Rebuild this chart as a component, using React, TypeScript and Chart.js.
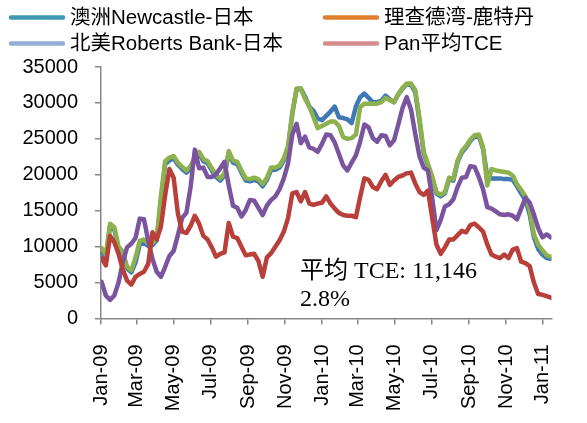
import React, { useEffect, useRef } from "react";
import { Chart, registerables } from "chart.js";

Chart.register(...registerables);

// Weekly observations, first one on 2009-01-02 (day 1 counted from 2009-01-01)
const FIRST_DAY = 1;
const WEEK = 7;

const tickLabels = [
  "Jan-09", "Mar-09", "May-09", "Jul-09", "Sep-09", "Nov-09", "Jan-10",
  "Mar-10", "May-10", "Jul-10", "Sep-10", "Nov-10", "Jan-11",
];
const tickMonths = [0, 2, 4, 6, 8, 10, 12, 14, 16, 18, 20, 22, 24];

const yTicks = [0, 5000, 10000, 15000, 20000, 25000, 30000, 35000];

const seriesNames = [
  "澳洲Newcastle-日本",
  "理查德湾-鹿特丹",
  "北美Roberts Bank-日本",
  "Pan平均TCE",
];

const newcastle = [
  9300, 8500, 12800, 12400, 9700, 9000, 7000, 6400, 7800, 10300,
  10500, 10100, 10200, 10900, 16500, 21500, 22000, 22300, 21400, 20800,
  20300, 20900, 22200, 22900, 21900, 21600, 20600, 19700, 19200, 19900,
  23000, 21700, 21500, 20300, 19200, 19100, 19300, 19100, 18400, 19300,
  20700, 20700, 21000, 22000, 23800, 28500, 31900, 32000, 30900, 29500,
  28900, 27800, 27600, 28200, 28800, 29500, 28000, 27900, 27700, 27200,
  29500, 30800, 31300, 30700, 30100, 30100, 30300, 31000, 30500, 30100,
  31200, 32000, 32600, 32500, 31500, 27500, 23000, 21300, 19600, 17400,
  17000, 17400, 19400, 19200, 21800, 23100, 23800, 24700, 25300, 25400,
  23600, 19800, 19500, 19500, 19500, 19400, 19400, 19300, 18400, 17400,
  16500, 14500, 11300, 9700, 8900, 8400, 8300,
];

const richardsBay = [
  9800, 8900, 13200, 12700, 10000, 9300, 7200, 6700, 8500, 10800,
  11000, 10400, 10500, 11200, 17000, 21900, 22400, 22600, 21700, 21100,
  20600, 21200, 22500, 23200, 22200, 21900, 20900, 20000, 19500, 20200,
  23300, 22000, 21800, 20600, 19500, 19400, 19600, 19400, 18700, 19600,
  21000, 21000, 21300, 22300, 24000, 28700, 32000, 32000, 30600, 29500,
  28000, 26500, 26800, 27100, 27400, 27400, 26800, 25250, 25000, 25100,
  25600, 29400, 29900, 29900, 29900, 29900, 30100, 30700, 30400, 30100,
  31200, 32100, 32700, 32700, 31800, 27900, 23200, 21500, 19800, 17600,
  17200, 17600, 19600, 19400, 22000, 23300, 24000, 24900, 25500, 25600,
  23800, 18500, 20800, 20600, 20500, 20400, 20300, 19900, 18700, 17900,
  17000, 15200, 11700, 10300, 9500, 8800, 8600,
];

const robertsBank = [
  5100, 3200, 2600, 3200, 5000, 7800, 9900, 10400, 11200, 13900,
  13800, 10800, 8300, 6500, 5800, 7200, 8700, 9400, 11600, 14000,
  14700, 18300, 23500, 20900, 21000, 19700, 19700, 20100, 20900, 21800,
  18500, 15700, 15400, 14200, 15100, 16500, 16400, 15400, 14400, 15700,
  16500, 17000, 18000, 19500, 21600, 25600, 27100, 24400, 25300, 23800,
  23600, 23200, 24300, 25600, 25500, 24500, 22900, 21300, 20600, 21700,
  22700, 24600, 27000, 26600, 25100, 24600, 25500, 25400, 24100, 24800,
  27000, 29300, 30800, 29100, 25700, 22600, 21000, 20600, 16800, 12300,
  13700, 15600, 15900, 16600, 18300, 19600, 19700, 21200, 21100, 19700,
  18000, 15500, 15300, 14900, 14500, 14400, 14500, 14300, 13800, 15300,
  16800, 16100, 14500, 12600, 11300, 11700, 11300,
];

const panTce = [
  8400, 7400, 11500, 10600, 9000, 6800, 5300, 4700, 5800, 6200,
  6500, 7600, 12000, 11000, 12800, 17200, 20800, 19600, 14600, 12100,
  11900, 12900, 14300, 13200, 11500, 11000, 9900, 8600, 9000, 9200,
  13300, 11400, 11200, 10000, 8800, 8900, 9000, 8000, 5800, 8500,
  9100, 10000, 10900, 12100, 14000, 17400, 17600, 16300, 17600, 16000,
  15800, 16000, 16100, 17000, 16000, 15300, 14700, 14400, 14300, 14300,
  14100, 16900, 19500, 19300, 18300, 18000, 19100, 20000, 18600, 19200,
  19700, 19900, 20200, 20300, 18800, 17600, 17200, 17800, 14000, 10300,
  9000, 9900, 11000, 11000, 11600, 12200, 12000, 13000, 13200, 12700,
  12100, 10300, 8900, 8600, 8400, 8900, 8400, 9600, 9800, 7900,
  7700, 7300, 5000, 3400, 3300, 3100, 2900,
];

const annotationLines = ["平均 TCE: 11,146", "2.8%"];

const lineColors = ["#3E78B7", "#8DB14D", "#7A549E", "#B9403A"];
const legendColors = ["#4298B0", "#E0802F", "#95AED6", "#D48C8C"];
const drawOrder = [4, 3, 2, 1];

const DAY_MS = 86400000;
const dayOfMonth = (m: number) =>
  (Date.UTC(2009, m, 1) - Date.UTC(2009, 0, 1)) / DAY_MS;
const tickDays = tickMonths.map(dayOfMonth);

const SANS = '"Liberation Sans", Arial, "Noto Sans CJK SC", sans-serif';
const SERIF = '"Liberation Serif", "Times New Roman", "Noto Sans CJK SC", serif';

const legendPlugin = {
  id: "customLegend",
  afterDraw(chart: any) {
    const ctx = chart.ctx;
    const cols = [9, 323];
    const rows = [17.5, 43.5];
    ctx.save();
    ctx.font = "20.5px " + SANS;
    ctx.textBaseline = "middle";
    ctx.textAlign = "left";
    chart.data.datasets.forEach((ds: any, i: number) => {
      const x = cols[i % 2];
      const y = rows[Math.floor(i / 2)];
      ctx.strokeStyle = legendColors[i];
      ctx.lineWidth = 4.5;
      ctx.lineCap = "round";
      ctx.beginPath();
      ctx.moveTo(x + 2, y);
      ctx.lineTo(x + 54, y);
      ctx.stroke();
      ctx.fillStyle = "#000";
      ctx.fillText(ds.label, x + 61, y + 1);
    });
    ctx.restore();
  },
};

const annotationPlugin = {
  id: "tceNote",
  afterDatasetsDraw(chart: any) {
    const ctx = chart.ctx;
    ctx.save();
    ctx.font = "24px " + SERIF;
    ctx.fillStyle = "#000";
    ctx.textBaseline = "middle";
    ctx.textAlign = "left";
    ctx.fillText(annotationLines[0], 300, 272);
    ctx.fillText(annotationLines[1], 300, 300);
    ctx.restore();
  },
};

export default function App() {
  const canvasRef = useRef<HTMLCanvasElement | null>(null);

  useEffect(() => {
    const canvas = canvasRef.current;
    if (!canvas) return;
    const all = [newcastle, richardsBay, robertsBank, panTce];
    const chart = new Chart(canvas, {
      type: "line",
      data: {
        datasets: all.map((vals, k) => ({
          label: seriesNames[k],
          data: vals.map((v, i) => ({ x: FIRST_DAY + WEEK * i, y: v })),
          borderColor: lineColors[k],
          backgroundColor: lineColors[k],
          borderWidth: 4.5,
          pointRadius: 0,
          tension: 0,
          borderJoinStyle: "round" as const,
          borderCapStyle: "round" as const,
          order: drawOrder[k],
        })),
      },
      options: {
        animation: false,
        responsive: false,
        maintainAspectRatio: false,
        layout: { padding: { top: 67, right: 1, left: 0, bottom: 0 } },
        plugins: {
          legend: { display: false },
          tooltip: { enabled: false },
        },
        scales: {
          x: {
            type: "linear",
            min: 0,
            max: 744,
            afterBuildTicks: (scale: any) => {
              scale.ticks = tickDays.map((v) => ({ value: v }));
            },
            afterFit: (scale: any) => {
              scale.height = 104.5;
            },
            ticks: {
              autoSkip: false,
              minRotation: 90,
              maxRotation: 90,
              padding: 20,
              color: "#000",
              font: { family: SANS, size: 20 },
              callback: (_v: any, index: number) => tickLabels[index],
            },
            grid: {
              display: true,
              drawOnChartArea: false,
              drawTicks: true,
              tickLength: 6,
              color: "#878787",
              lineWidth: 1.5,
            },
            border: { display: true, color: "#878787", width: 1.5 },
          },
          y: {
            min: 0,
            max: 35000,
            afterBuildTicks: (scale: any) => {
              scale.ticks = yTicks.map((v) => ({ value: v }));
            },
            afterFit: (scale: any) => {
              scale.width = 101;
            },
            ticks: {
              padding: 17,
              color: "#000",
              font: { family: SANS, size: 20 },
              callback: (v: any) => String(v),
            },
            grid: {
              display: true,
              drawOnChartArea: false,
              drawTicks: true,
              tickLength: 6,
              color: "#878787",
              lineWidth: 1.5,
            },
            border: { display: true, color: "#878787", width: 1.5 },
          },
        },
      },
      plugins: [legendPlugin, annotationPlugin],
    } as any);
    return () => chart.destroy();
  }, []);

  return (
    <div
      style={{
        position: "fixed",
        left: 0,
        top: 0,
        width: 587,
        height: 423,
        background: "#fff",
      }}
    >
      <canvas
        ref={canvasRef}
        width={587}
        height={423}
        style={{ display: "block", width: 587, height: 423 }}
      />
    </div>
  );
}
